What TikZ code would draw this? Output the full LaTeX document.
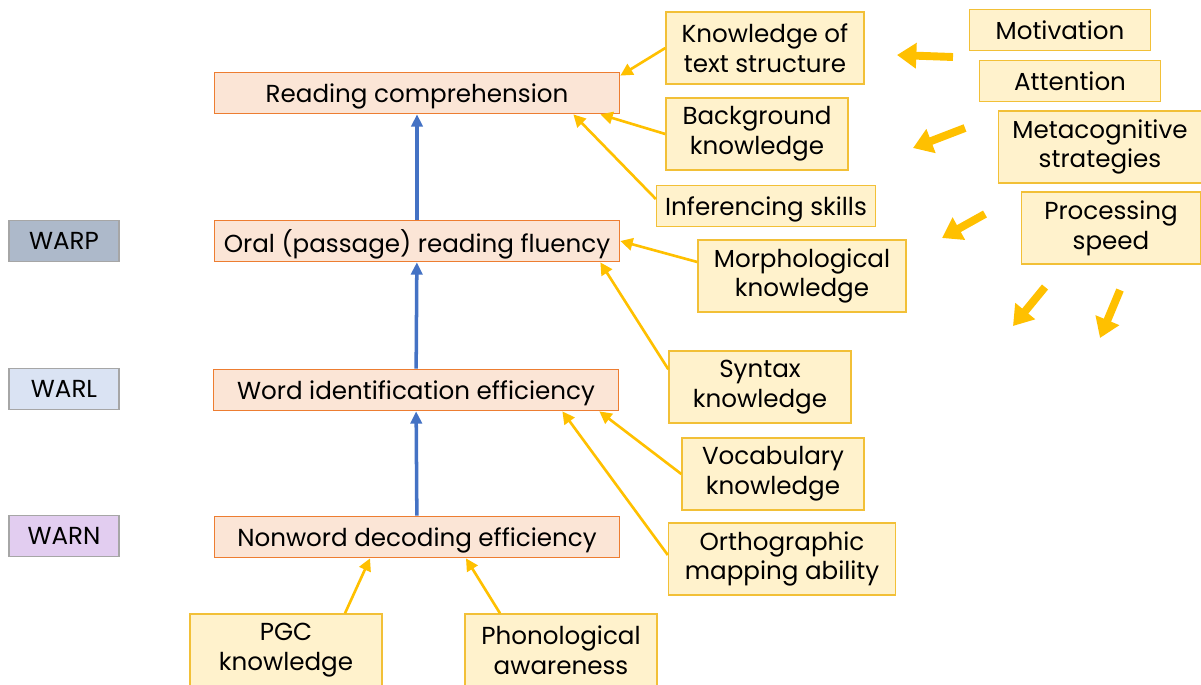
\documentclass[tikz,border=0pt]{standalone}
\usepackage{fontspec}
\setmainfont{Poppins}
\usetikzlibrary{arrows.meta}

\definecolor{peach}{HTML}{FBE5D6}
\definecolor{peachline}{HTML}{ED7D31}
\definecolor{cream}{HTML}{FFF2CC}
\definecolor{goldline}{HTML}{F2C037}
\definecolor{gold}{HTML}{FFC000}
\definecolor{riseblue}{HTML}{4472C4}
\definecolor{warpfill}{HTML}{ADB9CA}
\definecolor{warlfill}{HTML}{DAE3F3}
\definecolor{warnfill}{HTML}{E2CDF0}
\definecolor{tagline}{HTML}{A6A6A6}

\tikzset{
  stage/.style={draw=peachline, fill=peach, line width=1pt, minimum width=8.1cm, minimum height=0.82cm, inner sep=0pt, text depth=0pt},
  tag/.style={draw=tagline, line width=0.8pt, minimum width=2.2cm, minimum height=0.82cm, inner sep=0pt},
  skill/.style={draw=goldline, fill=cream, line width=0.8pt, align=center, inner sep=0pt, minimum height=1.44cm},
  skillone/.style={skill, minimum height=0.82cm, text depth=0pt},
  feed/.style={draw=gold, line width=1.5pt, -{Triangle[length=7pt,width=7pt]}},
  rise/.style={draw=riseblue, line width=2pt, -{Triangle[length=7pt,width=6.5pt]}},
  loose/.style={draw=gold, line width=4.5pt, -{Triangle[length=11pt,width=14pt]}}
}

\begin{document}
\begin{tikzpicture}[x=0.02cm, y=-0.02cm, font=\fontsize{14}{17}\selectfont]
		\useasboundingbox (0,0) rectangle (1201,684);

		\node[stage] (read) at (417,93) {Reading comprehension};
		\node[stage] (oral) at (417,241) {Oral (passage) reading fluency};
		\node[stage] (word) at (416,390) {Word identification efficiency};
		\node[stage] (non) at (417,537) {Nonword decoding efficiency};

		\node[tag, fill=warpfill] (warp) at (64,241) {WARP};
		\node[tag, fill=warlfill] (warl) at (64,389) {WARL};
		\node[tag, fill=warnfill] (warn) at (64,536) {WARN};

		\node[skill, minimum width=3.96cm] (kts) at (765,48) {Knowledge of\\text structure};
		\node[skill, minimum width=3.64cm] (bgk) at (757,134) {Background\\knowledge};
		\node[skillone, minimum width=4.38cm] (inf) at (766,206) {Inferencing skills};
		\node[skill, minimum width=4.16cm] (mor) at (802,276) {Morphological\\knowledge};
		\node[skill, minimum width=3.64cm] (syn) at (760,387) {Syntax\\knowledge};
		\node[skill, minimum width=3.64cm] (voc) at (773,474) {Vocabulary\\knowledge};
		\node[skill, minimum width=4.54cm] (ort) at (782,559) {Orthographic\\mapping ability};
		\node[skill, minimum width=3.84cm] (pgc) at (286,650) {PGC\\knowledge};
		\node[skill, minimum width=3.84cm] (pho) at (561,650) {Phonological\\awareness};

		\node[skillone, minimum width=3.62cm] (mot) at (1060,30) {Motivation};
		\node[skillone, minimum width=3.62cm] (att) at (1070,81) {Attention};
		\node[skill, minimum width=4.06cm] (met) at (1100,147) {Metacognitive\\strategies};
		\node[skill, minimum width=3.58cm] (pro) at (1111,228) {Processing\\speed};

		\draw[rise] (oral) -- (read);
		\draw[rise] (word) -- (oral);
		\draw[rise] (non) -- (word);

		\draw[feed] (kts.west) -- ([yshift=-0.08cm]read.north east);
		\draw[feed] (bgk.west) -- ([xshift=-0.4cm]read.south east);
		\draw[feed] ([yshift=0.14cm]inf.west) -- ([xshift=-0.94cm]read.south east);
		\draw[feed] ([yshift=0.28cm]mor.west) -- (oral.east);
		\draw[feed] ([yshift=-0.38cm]syn.north west) -- ([xshift=-0.4cm]oral.south east);
		\draw[feed] (voc.west) -- ([xshift=-0.4cm]word.south east);
		\draw[feed] ([yshift=0.08cm]ort.west) -- ([xshift=-1.14cm]word.south east);
		\draw[feed] ([xshift=1.18cm]pgc.north) -- ([xshift=-0.94cm]non.south);
		\draw[feed] ([xshift=-1.22cm]pho.north) -- ([xshift=0.98cm]non.south);

		\coordinate (a1) at (953,57);
		\coordinate (b1) at (897,55);
		\coordinate (a2) at (965,128);
		\coordinate (b2) at (913,148);
		\coordinate (a3) at (985,214);
		\coordinate (b3) at (942,238);
		\coordinate (a4) at (1045,287);
		\coordinate (b4) at (1013,326);
		\coordinate (a5) at (1120,290);
		\coordinate (b5) at (1100,338);
		\foreach \i in {1,...,5}
			\draw[loose] (a\i) -- (b\i);
	\end{tikzpicture}
\end{document}
